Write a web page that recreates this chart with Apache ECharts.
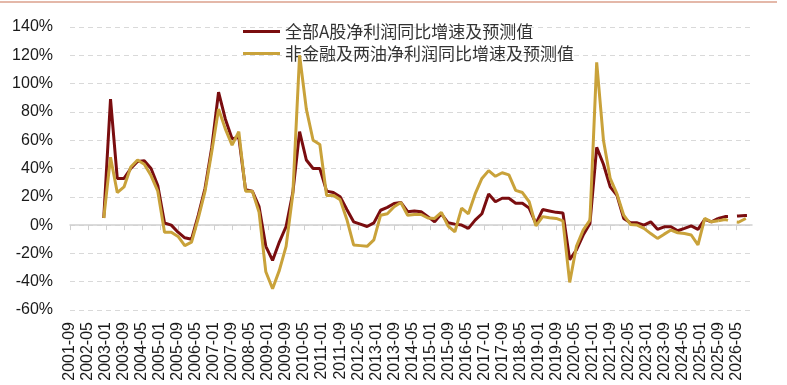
<!DOCTYPE html>
<html>
<head>
<meta charset="utf-8">
<script src="https://cdn.jsdelivr.net/npm/echarts@6/dist/echarts.min.js"></script>
<style>html,body{margin:0;padding:0;background:#fff;}#c{width:787px;height:385px;}</style>
</head>
<body>
<div id="c"></div>
<script>
// Quarter-end dates of the data points
const quarters = [
 '2002-12','2003-03','2003-06','2003-09','2003-12','2004-03','2004-06','2004-09','2004-12',
 '2005-03','2005-06','2005-09','2005-12','2006-03','2006-06','2006-09','2006-12',
 '2007-03','2007-06','2007-09','2007-12','2008-03','2008-06','2008-09','2008-12',
 '2009-03','2009-06','2009-09','2009-12','2010-03','2010-06','2010-09','2010-12',
 '2011-03','2011-06','2011-09','2011-12','2012-03','2012-06','2012-09','2012-12',
 '2013-03','2013-06','2013-09','2013-12','2014-03','2014-06','2014-09','2014-12',
 '2015-03','2015-06','2015-09','2015-12','2016-03','2016-06','2016-09','2016-12',
 '2017-03','2017-06','2017-09','2017-12','2018-03','2018-06','2018-09','2018-12',
 '2019-03','2019-06','2019-09','2019-12','2020-03','2020-06','2020-09','2020-12',
 '2021-03','2021-06','2021-09','2021-12','2022-03','2022-06','2022-09','2022-12',
 '2023-03','2023-06','2023-09','2023-12','2024-03','2024-06','2024-09','2024-12',
 '2025-03','2025-06','2025-09'
];
// 全部A股 净利润同比 (%) actual
const allA = [
 5,89,33,33,40,45,45.5,40,28,
 1.5,0,-5,-9,-10,7,26,55,
 94,75,61,62,25,24,13,-15,
 -25,-12,-1,23,66,46,40,40,
 24,23,20,11,2.3,0.7,-1,1.6,
 10.5,12.5,15.3,16,9.5,10,9.4,6,
 2.3,8,1.6,0.7,0,-2.3,3.5,8,
 22,16.5,19,19,15.5,15.5,12,1,
 11,10,9,8.5,-24.5,-17.5,-7,1.2,
 55,43,27,21,4.7,1.6,1.6,0,
 2.3,-3,-1.2,-1.2,-4,-2.3,-0.5,-3,
 4,2.3,4.7
];
// 非金融及两油 净利润同比 (%) actual
const nonFin = [
 5,48,23,27,41,46,43,35,24,
 -5,-5,-8,-14.5,-12,5,24,52,
 82,68,56.5,66,24,24,9,-33,
 -45,-32,-15,22,120,82,60,57,
 21,21,18,4,-14,-14.5,-15,-10.5,
 7,8,13,16,7,7.5,7.5,5,
 4.7,9,-0.7,-4.7,12,8,22,33,
 38.5,34.5,37,35.5,24.5,23,16.5,-0.5,
 6,5.2,4.7,3,-40.5,-15,-3.5,3.5,
 115,60,33,22,7,0.5,0,-2.3,
 -6,-9.4,-6.4,-3.5,-5.4,-6,-7,-14,
 4.7,2.3,3
];
// Forecast segment
const fcQuarters = ['2025-09','2025-12','2026-03','2026-06','2026-09','2026-12'];
const allAFc   = [4.7,6,6.2,6.5,6.8,7];
const nonFinFc = [3,4,2.5,2,4.5,7];

const nameA = '全部A股净利润同比增速及预测值';
const nameB = '非金融及两油净利润同比增速及预测值';

// monthly category axis 2001-09 .. 2026-12
const months = [];
for (let y = 2001, m = 9; y < 2027; ) {
  months.push(y + '-' + String(m).padStart(2, '0'));
  m++; if (m > 12) { m = 1; y++; }
}
const pairs = (ds, vs) => ds.map((d, i) => [d, vs[i]]);

const RED = '#7a0d0f', GOLD = '#c9a23a';
const chart = echarts.init(document.getElementById('c'));
const axisFont = {fontFamily: '"Liberation Sans", Arial, sans-serif', fontSize: 16, color: '#1a1a1a'};
chart.setOption({
  animation: false,
  backgroundColor: '#fff',
  grid: {left: 70, right: 35, top: 27, bottom: 75},
  legend: {
    orient: 'vertical', left: 238, top: 17, itemGap: 3,
    itemWidth: 37, itemHeight: 3, icon: 'rect',
    data: [nameA, nameB],
    textStyle: {fontFamily: '"Noto Sans CJK SC", sans-serif', fontSize: 17, color: '#333', lineHeight: 19}
  },
  graphic: [{type: 'line', shape: {x1: 0, y1: 2, x2: 777, y2: 2}, style: {stroke: '#dba08c', lineWidth: 1.5}}],
  xAxis: [{
    type: 'category', data: months, boundaryGap: false,
    axisLine: {show: false, onZero: false}, axisTick: {show: false},
    axisLabel: Object.assign({interval: 7, rotate: 90, margin: 12}, axisFont),
    splitLine: {show: false}
  }, {
    type: 'category', data: months, boundaryGap: false, position: 'bottom',
    axisLine: {show: true, onZero: true, lineStyle: {color: '#d0d0d0', width: 1.5}},
    axisTick: {show: true, interval: 7, length: 5, inside: false, lineStyle: {color: '#d0d0d0'}},
    axisLabel: {show: false}, splitLine: {show: false}
  }],
  yAxis: {
    type: 'value', min: -60, max: 140, interval: 20,
    axisLine: {show: false}, axisTick: {show: false},
    axisLabel: Object.assign({formatter: '{value}%', margin: 17}, axisFont),
    splitLine: {show: true, lineStyle: {color: '#d9d9d9', type: [5, 4], width: 1}}
  },
  series: [
    {name: nameA, type: 'line', xAxisIndex: 0, data: pairs(quarters, allA), symbol: 'none',
     lineStyle: {color: RED, width: 3}, itemStyle: {color: RED}, z: 3},
    {name: nameB, type: 'line', xAxisIndex: 0, data: pairs(quarters, nonFin), symbol: 'none',
     lineStyle: {color: GOLD, width: 3}, itemStyle: {color: GOLD}, z: 4},
    {name: nameA, type: 'line', xAxisIndex: 0, data: pairs(fcQuarters, allAFc), symbol: 'none',
     lineStyle: {color: RED, width: 3, type: [10, 9]}, itemStyle: {color: RED}, z: 3},
    {name: nameB, type: 'line', xAxisIndex: 0, data: pairs(fcQuarters, nonFinFc), symbol: 'none',
     lineStyle: {color: GOLD, width: 3, type: [10, 9]}, itemStyle: {color: GOLD}, z: 4}
  ]
});
</script>
</body>
</html>
